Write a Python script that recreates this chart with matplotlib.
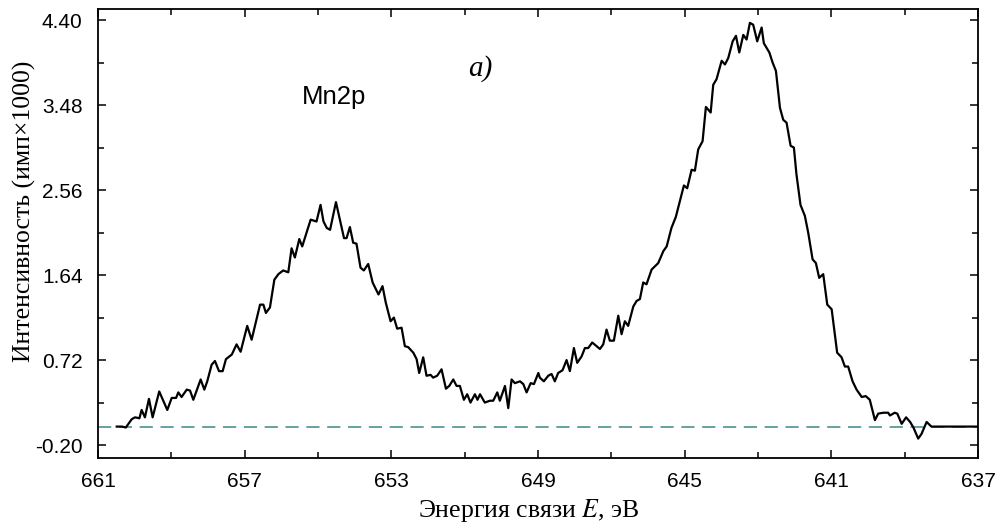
import numpy as np
import matplotlib
matplotlib.use('Agg')
from matplotlib import pyplot as plt

# binding energy (eV) and intensity (counts x1000)
energy = [660.49, 660.35, 660.24, 660.08, 659.99, 659.87, 659.81, 659.72, 659.61, 659.51,
          659.33, 659.11, 658.99, 658.87, 658.81, 658.72, 658.58, 658.49, 658.40, 658.20,
          658.10, 658.02, 657.90, 657.81, 657.70, 657.60, 657.51, 657.35, 657.22, 657.11,
          656.93, 656.81, 656.58, 656.49, 656.42, 656.31, 656.19, 656.08, 655.95, 655.81,
          655.72, 655.63, 655.51, 655.43, 655.20, 655.04, 654.93, 654.85, 654.76, 654.67,
          654.51, 654.29, 654.22, 654.13, 654.04, 653.95, 653.84, 653.75, 653.63, 653.51,
          653.35, 653.24, 653.15, 653.02, 652.93, 652.84, 652.72, 652.63, 652.54, 652.40,
          652.31, 652.24, 652.13, 652.04, 651.93, 651.86, 651.75, 651.63, 651.51, 651.42,
          651.31, 651.22, 651.13, 651.02, 650.93, 650.84, 650.72, 650.65, 650.58, 650.45,
          650.31, 650.22, 650.11, 650.04, 649.90, 649.81, 649.72, 649.63, 649.49, 649.40,
          649.31, 649.20, 649.11, 648.99,
          648.95, 648.84, 648.72, 648.63, 648.54, 648.45, 648.33, 648.22, 648.13, 648.02,
          647.93, 647.81, 647.72, 647.63, 647.52, 647.40, 647.31, 647.22, 647.13, 647.04,
          646.93, 646.81, 646.72, 646.63, 646.54, 646.40, 646.31, 646.22, 646.13, 646.04,
          645.90, 645.72, 645.58, 645.49, 645.36, 645.24, 645.13, 645.02, 644.93, 644.81,
          644.72, 644.63, 644.51, 644.42, 644.29, 644.22, 644.13, 643.99, 643.90, 643.81,
          643.69, 643.60, 643.51, 643.40, 643.31, 643.22, 643.13, 643.02, 642.90, 642.84,
          642.69, 642.60, 642.51, 642.40, 642.31, 642.22, 642.11, 642.02, 641.95, 641.84,
          641.72, 641.63, 641.51, 641.42, 641.33, 641.22, 641.11, 640.99, 640.84, 640.72,
          640.63, 640.54, 640.42, 640.31, 640.17, 640.06, 639.95, 639.81, 639.72, 639.58,
          639.45, 639.40, 639.27, 639.20, 639.08, 638.96, 638.85, 638.76, 638.63, 638.54,
          638.40, 638.27, 637.00]

intensity = [0.00, 0.00, -0.01, 0.08, 0.10, 0.09, 0.18, 0.10, 0.30, 0.10,
             0.38, 0.18, 0.31, 0.31, 0.37, 0.32, 0.40, 0.39, 0.29, 0.51,
             0.40, 0.49, 0.67, 0.71, 0.60, 0.60, 0.73, 0.78, 0.89, 0.81,
             1.09, 0.94, 1.32, 1.32, 1.23, 1.29, 1.59, 1.65, 1.69, 1.67,
             1.93, 1.83, 2.03, 1.95, 2.24, 2.22, 2.40, 2.22, 2.15, 2.13,
             2.43, 2.04, 2.04, 2.16, 1.99, 1.98, 1.72, 1.69, 1.76, 1.56,
             1.43, 1.52, 1.34, 1.14, 1.18, 1.06, 1.07, 0.87, 0.86, 0.80,
             0.73, 0.58, 0.75, 0.55, 0.56, 0.53, 0.55, 0.62, 0.41, 0.44,
             0.51, 0.44, 0.44, 0.29, 0.35, 0.26, 0.35, 0.29, 0.35, 0.26,
             0.28, 0.28, 0.37, 0.28, 0.44, 0.20, 0.51, 0.47, 0.49, 0.46,
             0.37, 0.47, 0.46, 0.58,
             0.53, 0.49, 0.55, 0.57, 0.49, 0.58, 0.61, 0.72, 0.60, 0.85,
             0.69, 0.76, 0.85, 0.85, 0.91, 0.87, 0.84, 0.89, 1.05, 0.93,
             0.93, 1.20, 1.00, 1.14, 1.09, 1.30, 1.36, 1.38, 1.56, 1.54,
             1.70, 1.77, 1.90, 1.95, 2.15, 2.27, 2.44, 2.61, 2.58, 2.78,
             2.77, 3.00, 3.09, 3.46, 3.40, 3.70, 3.76, 3.96, 3.92, 3.99,
             4.17, 4.23, 4.05, 4.24, 4.19, 4.37, 4.35, 4.17, 4.32, 4.15,
             4.05, 3.94, 3.85, 3.45, 3.32, 3.29, 3.04, 3.02, 2.73, 2.40,
             2.28, 2.10, 1.81, 1.77, 1.61, 1.65, 1.32, 1.27, 0.80, 0.75,
             0.65, 0.65, 0.49, 0.40, 0.32, 0.33, 0.29, 0.07, 0.14, 0.15,
             0.15, 0.12, 0.15, 0.14, 0.03, 0.10, 0.05, -0.01, -0.13, -0.08,
             0.05, 0.00, 0.00]

x_ticks = [661, 657, 653, 649, 645, 641, 637]
y_ticks = [-0.20, 0.72, 1.64, 2.56, 3.48, 4.40]
baseline = 0.0

plt.rcParams['lines.scale_dashes'] = False
plt.rcParams['mathtext.fontset'] = 'stix'

fig = plt.figure(figsize=(10.02, 5.31), dpi=100)
ax = fig.add_axes([0.0978, 0.1375, 0.8782, 0.8455])

ax.axhline(baseline, color='#5b9b98', lw=1.3, dashes=(9.5, 5.5))
ax.plot(energy, intensity, color='black', lw=1.6)

ax.set_xlim(661, 637)
ax.set_ylim(-0.34, 4.52)
ax.set_xticks(x_ticks)
ax.set_xticklabels([str(v) for v in x_ticks])
ax.set_xticks(np.arange(659, 637, -4), minor=True)
ax.set_yticks(y_ticks)
ax.set_yticklabels(['%.2f' % v for v in y_ticks])
ax.set_yticks(np.array(y_ticks[:-1]) + 0.46, minor=True)

ax.tick_params(which='both', direction='in', top=True, right=True,
               labelfontfamily='Liberation Sans', labelsize=15)
ax.tick_params(axis='y', pad=11)
ax.tick_params(axis='x', pad=10)
ax.tick_params(which='major', length=6, width=1.1)
ax.tick_params(which='minor', length=4, width=1.1)
for s in ax.spines.values():
    s.set_linewidth(1.3)

ax.set_xlabel('Энергия связи $\\mathit{E}$, эВ', family='Liberation Serif', fontsize=18.5)
ax.xaxis.label.set_va('center')
ax.xaxis.set_label_coords(0.489, -0.116)
ax.set_ylabel('Интенсивность (имп×1000)', family='Liberation Serif', fontsize=18.5)
ax.yaxis.label.set_va('center')
ax.yaxis.set_label_coords(-0.084, 0.55)

ax.text(654.56, 3.57, 'Mn2p', family='Liberation Sans', fontsize=18.5,
        ha='center', va='center')
ax.text(650.58, 3.88, 'a)', family='Liberation Serif', style='italic',
        fontsize=21, ha='center', va='center')

fig.savefig('out.png', dpi=100)
